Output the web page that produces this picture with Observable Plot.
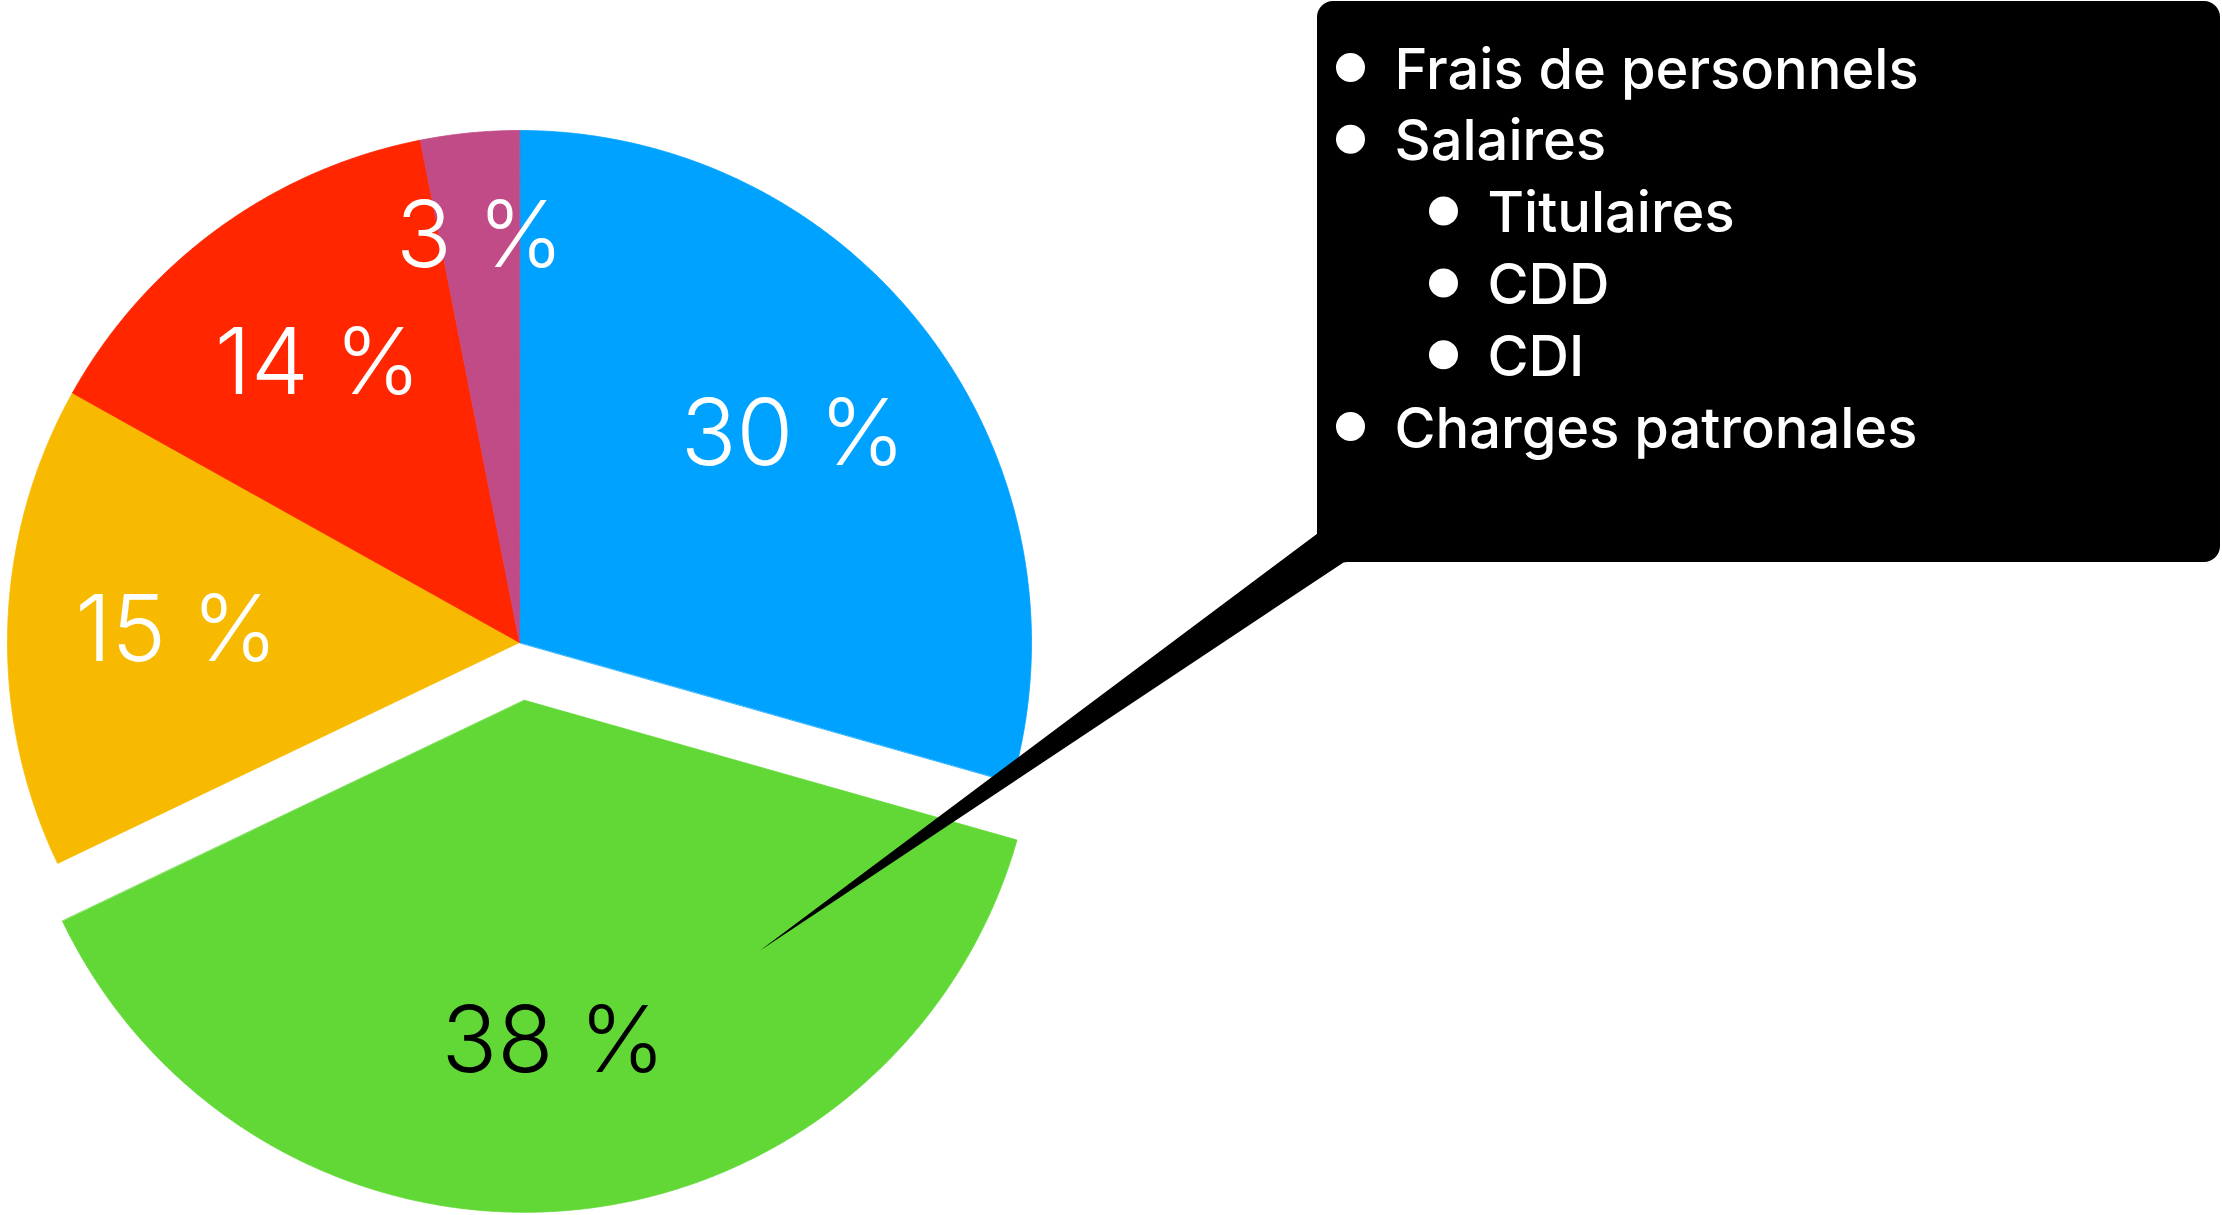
<!DOCTYPE html>
<html>
<head>
<meta charset="utf-8">
<script src="https://cdn.jsdelivr.net/npm/d3@7"></script>
<script src="https://cdn.jsdelivr.net/npm/@observablehq/plot@0.6"></script>
<style>
  html, body { margin: 0; padding: 0; background: #ffffff; }
  #chart svg { display: block; }
</style>
</head>
<body>
<div id="chart"></div>
<script>
// ---- Data ----
const values = [29.4, 38.5, 15.2, 13.8, 3.1];
const labels = ["30 %", "38 %", "15 %", "14 %", "3 %"];
const colors = ["#00A2FF", "#61D836", "#F8BA00", "#FF2600", "#C04B86"];
const labelColors = ["#ffffff", "#000000", "#ffffff", "#ffffff", "#ffffff"];
const explodedSlice = "38 %";
const calloutItems = ["Frais de personnels", "Salaires", "Titulaires", "CDD", "CDI", "Charges patronales"];
const calloutLevels = [0, 0, 1, 1, 1, 0];

// ---- Layout ----
const W = 2222, H = 1215;
const pie = {cx: 519, cy: 642, r: 512, explode: 58, labelR: 0.67, smallLabelR: 0.795};
const box = {x1: 1317, y1: 1, x2: 2220, y2: 562, rx: 16};
const pointer = {tip: [758, 951], a: [1317, 533], b: [1343, 562]};
const list = {x0: 1394, indent: 93, bulletGap: 44, baseline0: 88, step: 71.8, bulletRise: 21};

// ---- Geometry from the data ----
const arcs = d3.pie().sort(null).value(d => d)(values);
const slicePts = [];
const labelPts = [];
arcs.forEach((a, i) => {
  const name = labels[i];
  const mid = (a.startAngle + a.endAngle) / 2;
  const off = name === explodedSlice ? pie.explode : 0;
  const cx = pie.cx + off * Math.sin(mid);
  const cy = pie.cy - off * Math.cos(mid);
  slicePts.push({slice: name, x: cx, y: cy});
  const n = Math.max(8, Math.ceil((a.endAngle - a.startAngle) / (Math.PI / 720)));
  for (let k = 0; k <= n; k++) {
    const t = a.startAngle + (a.endAngle - a.startAngle) * k / n;
    slicePts.push({slice: name, x: cx + pie.r * Math.sin(t), y: cy - pie.r * Math.cos(t)});
  }
  const lr = pie.r * (values[i] < 5 ? pie.smallLabelR : pie.labelR);
  labelPts.push({text: name, color: labelColors[i], x: cx + lr * Math.sin(mid), y: cy - lr * Math.cos(mid)});
});

const wedge = [
  {x: box.x1 + 2, y: pointer.a[1] - 40},
  {x: pointer.a[0], y: pointer.a[1]},
  {x: pointer.tip[0], y: pointer.tip[1]},
  {x: pointer.b[0], y: pointer.b[1]},
  {x: pointer.b[0] + 30, y: pointer.b[1] - 4},
  {x: pointer.b[0] + 30, y: pointer.a[1] - 40}
];

const items = calloutItems.map((t, i) => ({
  text: t,
  level: calloutLevels[i],
  x: list.x0 + calloutLevels[i] * list.indent,
  y: list.baseline0 + i * list.step
}));

const chart = Plot.plot({
  width: W,
  height: H,
  margin: 0,
  x: {domain: [0, W], range: [0, W], axis: null},
  y: {domain: [0, H], range: [0, H], axis: null},
  color: {domain: labels, range: colors},
  style: {background: "#ffffff", fontFamily: "Inter, 'Helvetica Neue', sans-serif"},
  marks: [
    Plot.line(slicePts, {x: "x", y: "y", z: "slice", fill: "slice", stroke: "slice", strokeWidth: 0.8, curve: "linear-closed"}),
    Plot.text(labelPts, {x: "x", y: "y", text: "text", fill: "color", fontSize: 92, fontWeight: 300, textAnchor: "middle", lineAnchor: "middle", fontFamily: "Inter, 'Helvetica Neue', sans-serif"}),
    Plot.rect([box], {x1: "x1", x2: "x2", y1: "y1", y2: "y2", fill: "#000000", rx: box.rx}),
    Plot.line(wedge, {x: "x", y: "y", fill: "#000000", stroke: null, curve: "linear-closed"}),
    Plot.dot(items, {x: d => d.x - list.bulletGap, y: d => d.y - list.bulletRise, r: 14.5, fill: "#ffffff", stroke: null}),
    Plot.text(items, {x: "x", y: "y", text: "text", fill: "#ffffff", fontSize: 56, fontWeight: 500, textAnchor: "start", lineAnchor: "bottom", fontFamily: "Inter, 'Helvetica Neue', sans-serif"})
  ]
});
document.getElementById("chart").appendChild(chart);
</script>
</body>
</html>
